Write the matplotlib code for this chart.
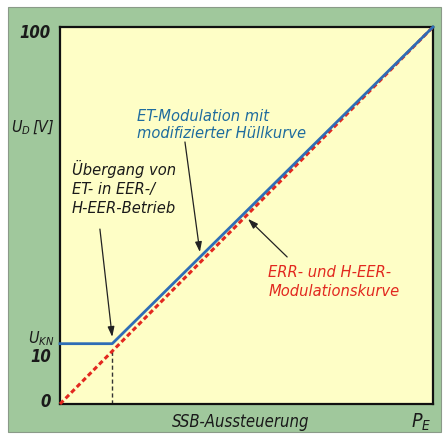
import matplotlib
matplotlib.use("Agg")
import matplotlib.pyplot as plt
from matplotlib.patches import Rectangle

plt.rcParams['font.family'] = ['DejaVu Sans']
plt.rcParams['font.style'] = 'italic'
plt.rcParams['font.stretch'] = 'condensed'
plt.rcParams['mathtext.fontset'] = 'custom'
plt.rcParams['mathtext.rm'] = 'DejaVu Sans:italic'
plt.rcParams['mathtext.it'] = 'DejaVu Sans:italic'

# Kennlinien (x: SSB-Aussteuerung in %, y: U_D in V)
eer_x = [0, 100]
eer_y = [0, 100]
et_x = [0, 14, 100]
et_y = [16, 16, 100]
knick_x = 14
knick_y_red = 14.5

# Beschriftungen der y-Achse: (Position, Text, fett)
ylabels = [(98.7, "100", True), (73.5, r"$U_D\,$[V]", False),
           (17.5, r"$U_{KN}$", False), (12.7, "10", True), (0.8, "0", True)]

GREEN = '#a0c89c'
YELLOW = '#fefec6'
BLUE = '#2e6db6'
RED = '#e2281f'
BLUE_TXT = '#1e6c9e'

W, H = 443, 435
fig = plt.figure(figsize=(W / 100, H / 100), dpi=100, facecolor='white')
fig.patches.append(Rectangle((8 / W, 2 / H), 433 / W, 425 / H,
                             transform=fig.transFigure, facecolor=GREEN,
                             edgecolor='#8a9a88', linewidth=0.8, zorder=-5))

ax = fig.add_axes([60 / W, 30 / H, 373 / W, 377 / H])
ax.set_facecolor(YELLOW)
ax.set_xlim(0, 100)
ax.set_ylim(0, 100)
for s in ax.spines.values():
    s.set_linewidth(1.6)
    s.set_color('#111111')
ax.set_xticks([])
ax.set_yticks([])

# Hilfslinie vom Knickpunkt zur x-Achse
ax.plot([knick_x, knick_x], [0, knick_y_red], color='#333333', lw=1.0,
        linestyle=(0, (3, 2)), zorder=2)
ax.plot(eer_x, eer_y, color=RED, lw=2.2, linestyle=(0, (1.6, 1.0)),
        zorder=3, clip_on=False)
ax.plot(et_x, et_y, color=BLUE, lw=2.0, zorder=4, clip_on=False)

for y, t, fett in ylabels:
    ax.text(-0.025 if fett else -0.014, y, t,
            transform=ax.get_yaxis_transform(), ha='right', va='center',
            fontsize=12 if fett else 11.5, color='#1a1a1a',
            fontweight='bold' if fett else 'normal')

ax.text(48.3, -4.6, "SSB-Aussteuerung", ha='center', va='center',
        fontsize=12, color='#1a1a1a', clip_on=False)
ax.text(96.8, -4.6, r"$P_E$", ha='center', va='center', fontsize=14,
        color='#1a1a1a', clip_on=False)

ax.text(20.6, 74.3, "ET-Modulation mit\nmodifizierter Hüllkurve",
        ha='left', va='center', fontsize=11.8, color=BLUE_TXT, linespacing=1.2)
ax.text(3.2, 57.6, "Übergang von\nET- in EER-/\nH-EER-Betrieb",
        ha='left', va='center', fontsize=11.8, color='#1a1a1a', linespacing=1.35)
ax.text(55.8, 32.6, "ERR- und H-EER-\nModulationskurve",
        ha='left', va='center', fontsize=11.8, color=RED, linespacing=1.35)

arrow = dict(arrowstyle='-|>,head_length=0.6,head_width=0.2',
             color='#222222', lw=0.9, shrinkA=0, shrinkB=0)
ax.annotate("", xy=(37.5, 40.3), xytext=(33.5, 69.5), arrowprops=arrow)
ax.annotate("", xy=(14.0, 17.8), xytext=(10.7, 46.4), arrowprops=arrow)
ax.annotate("", xy=(50.4, 49.1), xytext=(60.9, 39.0), arrowprops=arrow)

fig.savefig("out.png", dpi=100, facecolor=fig.get_facecolor())
